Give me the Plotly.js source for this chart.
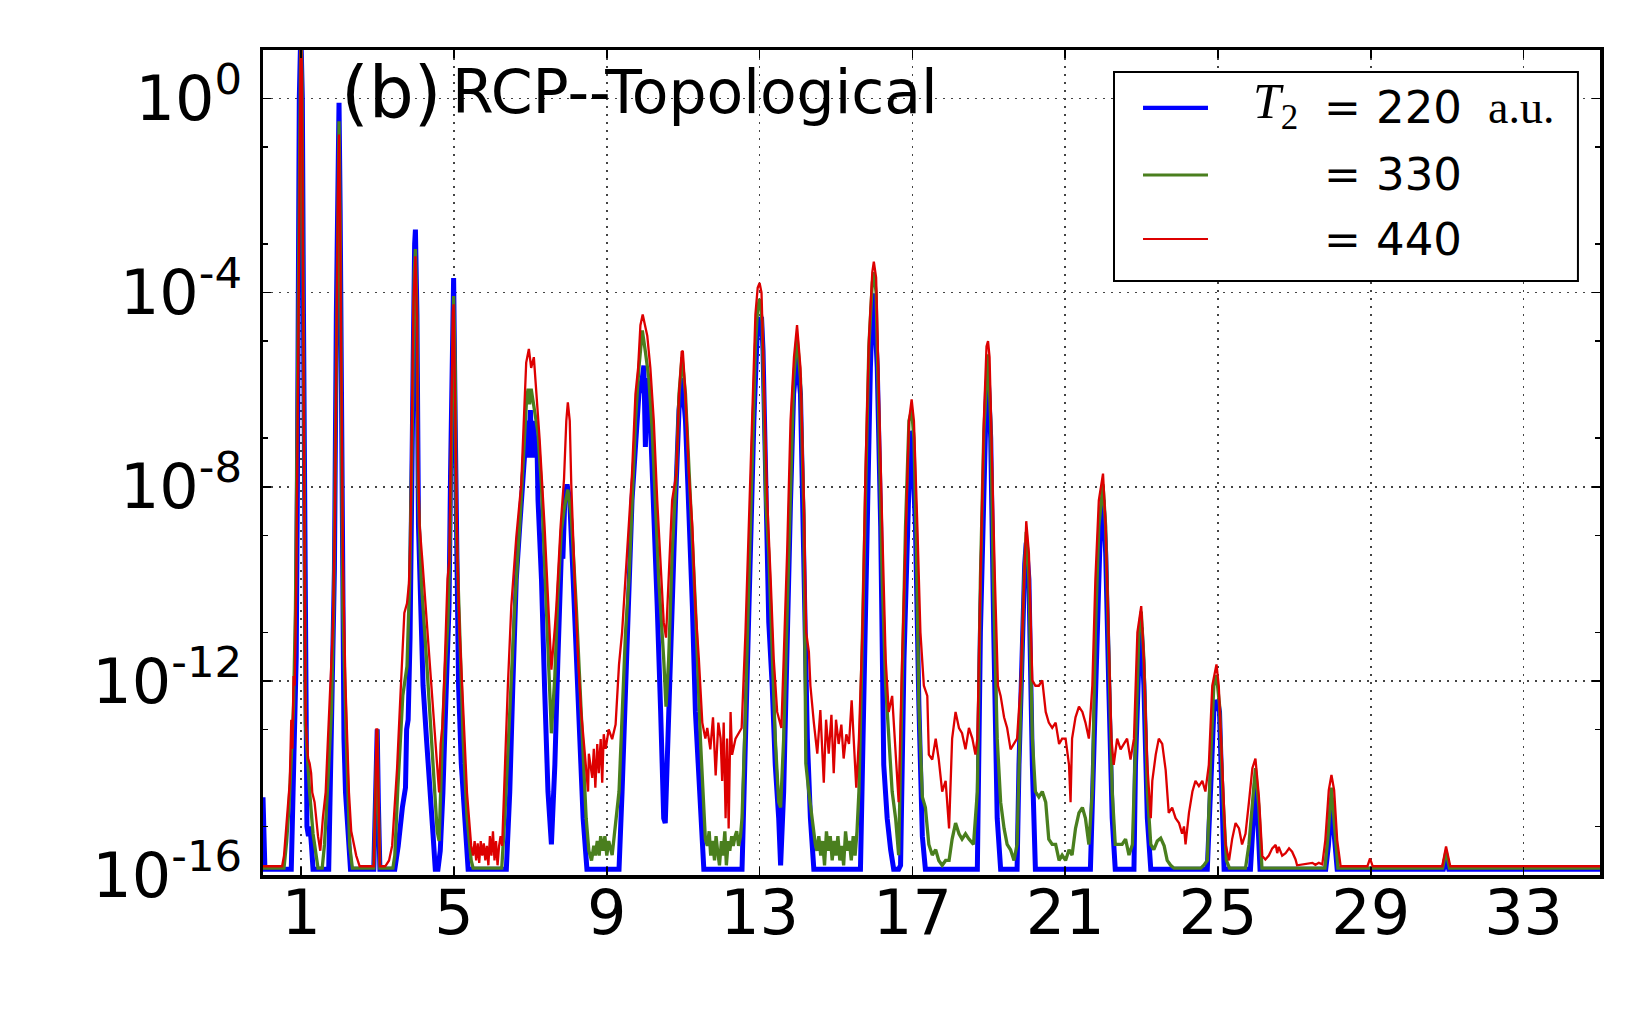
<!DOCTYPE html>
<html>
<head>
<meta charset="utf-8">
<script src="https://cdn.plot.ly/plotly-3.0.1.min.js"></script>
<style>
  html, body { margin: 0; padding: 0; background: #fff; }
  #chart { width: 1650px; height: 1018px; }
</style>
</head>
<body>
<div id="chart"></div>
<script>
// harmonic order (x) and log10 of the yield
const blueX = [
  0, 0.03, 0.05, 0.74, 0.83, 0.87, 0.90, 0.92, 0.95, 0.99, 1.03, 1.06, 1.08, 1.10, 1.12, 1.15, 1.19, 1.23, 1.27, 1.31,
  1.72, 1.77, 1.82, 1.87, 1.92, 1.96, 1.99, 2.02, 2.06, 2.08, 2.12, 2.16, 2.23, 2.29,
  2.90, 2.94, 2.97, 2.99, 3.02, 3.06,
  3.45, 3.54, 3.65, 3.73, 3.76, 3.80, 3.85, 3.89, 3.93, 3.97, 3.99, 4.03, 4.07, 4.13, 4.19, 4.28, 4.36, 4.45, 4.51,
  4.58, 4.64, 4.71, 4.80, 4.87, 4.91, 4.96, 4.99, 5.03, 5.06, 5.12, 5.19, 5.28, 5.37,
  6.37, 6.46, 6.54, 6.63, 6.72, 6.79, 6.85, 6.91, 6.95, 7.00, 7.04, 7.09, 7.13, 7.17, 7.20, 7.29, 7.37, 7.46, 7.55,
  7.64, 7.72, 7.81, 7.85, 7.90, 7.96, 8.03, 8.12, 8.25, 8.38, 8.48,
  9.32, 9.40, 9.49, 9.58, 9.66, 9.75, 9.84, 9.93, 9.97, 10.01, 10.06, 10.14, 10.23, 10.32, 10.41, 10.49, 10.53,
  10.62, 10.71, 10.80, 10.89, 10.97, 11.06, 11.15, 11.24, 11.32, 11.45, 11.54,
  12.54, 12.59, 12.68, 12.77, 12.85, 12.94, 13.00, 13.02, 13.05, 13.09, 13.15, 13.20, 13.24, 13.33, 13.41, 13.50, 13.55,
  13.63, 13.72, 13.81, 13.89, 13.98, 14.07, 14.16, 14.25, 14.33, 14.42,
  15.64, 15.73, 15.82, 15.90, 15.96, 15.99, 16.08, 16.17, 16.25, 16.34, 16.43, 16.51, 16.64, 16.69,
  16.78, 16.86, 16.95, 16.98, 17.08, 17.17, 17.26, 17.34,
  18.70, 18.78, 18.87, 18.94, 18.98, 19.05, 19.13, 19.22, 19.31,
  19.74, 19.79, 19.87, 19.94, 19.98, 20.05, 20.14, 20.22,
  21.66, 21.75, 21.84, 21.93, 21.99, 22.06, 22.14, 22.23, 22.31,
  22.80, 22.84, 22.93, 22.99, 23.06, 23.15, 23.24,
  24.72, 24.80, 24.89, 24.96, 25.00, 25.04, 25.10, 25.16,
  25.85, 25.90, 25.98, 26.05, 26.10,
  27.82, 27.89, 27.97, 28.05, 28.12,
  30.90, 30.97, 31.04, 35
];
const blueLog = [
  -14.4, -15.2, -15.88, -15.88, -13.3, -11.5, -8.0, -4.5, 0, 1.4, 0, -4.5, -8.0, -11.0, -13.2, -15.0, -15.2, -15.0, -15.4, -15.88,
  -15.88, -13.4, -11.9, -9.7, -4.45, -1.2, -0.09, -2.3, -6.6, -10.5, -13.2, -14.3, -15.4, -15.88,
  -15.88, -14.5, -13.0, -13.0, -14.5, -15.88,
  -15.88, -15.4, -14.6, -14.2, -13.0, -12.8, -11.1, -9.06, -5.5, -3.0, -2.7, -4.45, -8.8, -10.46, -12.1, -13.2, -14.3, -15.15, -15.88,
  -15.88, -15.5, -14.3, -12.1, -10.46, -7.7, -5.0, -3.7, -6.6, -9.4, -12.1, -13.7, -14.8, -15.88,
  -15.88, -14.28, -12.1, -9.91, -8.82, -7.95, -7.18, -6.64, -7.40, -6.42, -7.40, -6.64, -7.40, -7.0, -8.28, -9.91, -12.1, -14.28, -15.37,
  -13.73, -11.55, -9.37, -9.48, -8.28, -7.95, -8.28, -9.91, -12.1, -14.83, -15.88,
  -15.88, -14.28, -12.1, -9.91, -8.28, -7.18, -6.09, -5.76, -5.5, -7.18, -5.76, -6.64, -8.28, -10.46, -12.64, -14.83, -14.93,
  -12.64, -9.91, -8.28, -6.42, -5.76, -6.64, -8.28, -10.46, -12.64, -14.83, -15.88,
  -15.88, -14.28, -11.55, -8.82, -6.64, -4.78, -4.5, -4.9, -4.5, -5.2, -7.73, -10.46, -10.79, -12.1, -13.73, -14.83, -15.8,
  -14.28, -11.0, -8.28, -6.09, -5.33, -6.09, -9.91, -13.19, -14.83, -15.88,
  -15.88, -12.1, -8.82, -5.55, -4.13, -4.02, -5.55, -8.82, -13.73, -14.83, -15.48, -15.88, -15.88, -15.8,
  -11.55, -8.82, -6.86, -6.9, -8.82, -12.5, -15.2, -15.88,
  -15.88, -11.0, -7.73, -6.0, -5.66, -7.0, -11.0, -14.83, -15.88,
  -15.88, -13.73, -11.0, -9.6, -9.15, -9.91, -13.73, -15.88,
  -15.88, -13.19, -10.46, -8.6, -8.27, -9.37, -12.1, -14.83, -15.88,
  -15.88, -13.73, -11.55, -10.9, -12.1, -14.83, -15.88,
  -15.88, -14.28, -12.64, -12.4, -12.45, -12.64, -14.0, -15.88,
  -15.88, -15.0, -14.1, -15.0, -15.88,
  -15.88, -15.4, -14.5, -15.4, -15.88,
  -15.88, -15.62, -15.88, -15.88
];

const greenX = [
  0, 0.55, 0.62, 0.68, 0.74, 0.80, 0.85, 0.89, 0.92, 0.96, 0.99, 1.02, 1.05, 1.08, 1.11, 1.16, 1.22, 1.31, 1.40, 1.44,
  1.55, 1.61, 1.70, 1.79, 1.85, 1.88, 1.92, 1.96, 1.99, 2.02, 2.06, 2.09, 2.18, 2.27, 2.34,
  2.90, 2.94, 2.97, 2.99, 3.02, 3.06,
  3.40, 3.45, 3.53, 3.66, 3.77, 3.84, 3.91, 3.96, 3.99, 4.03, 4.06, 4.14, 4.28, 4.41, 4.49, 4.56, 4.61,
  4.66, 4.71, 4.78, 4.84, 4.90, 4.94, 4.98, 4.99, 5.03, 5.06, 5.15, 5.24, 5.34, 5.45, 5.50,
  6.25, 6.33, 6.46, 6.59, 6.72, 6.85, 6.90, 6.94, 6.98, 7.02, 7.06, 7.11, 7.20, 7.29, 7.37, 7.46, 7.55,
  7.64, 7.72, 7.81, 7.90, 7.98, 8.07, 8.20, 8.33, 8.46,
  8.53, 8.60, 8.66, 8.70, 8.75, 8.80, 8.84, 8.90, 8.95, 9.00, 9.05, 9.10, 9.14,
  9.32, 9.40, 9.49, 9.58, 9.66, 9.75, 9.84, 9.93, 10.01, 10.10, 10.19, 10.27, 10.36, 10.49, 10.55,
  10.62, 10.71, 10.82, 10.89, 10.97, 11.06, 11.19, 11.32, 11.45, 11.54, 11.58,
  11.63, 11.68, 11.72, 11.77, 11.82, 11.86, 11.90, 11.95, 12.00, 12.04, 12.09, 12.13, 12.18, 12.22, 12.27, 12.31,
  12.36, 12.40, 12.45, 12.50,
  12.54, 12.63, 12.72, 12.81, 12.89, 12.95, 13.00, 13.07, 13.16, 13.24, 13.33, 13.41, 13.50, 13.55,
  13.63, 13.76, 13.89, 13.98, 14.07, 14.16, 14.19, 14.21, 14.29, 14.37, 14.46, 14.50,
  14.55, 14.60, 14.65, 14.70, 14.75, 14.80, 14.85, 14.90, 14.95, 15.00, 15.05, 15.10, 15.15, 15.20, 15.25, 15.30,
  15.35, 15.40, 15.45, 15.50, 15.55,
  15.60, 15.69, 15.77, 15.86, 15.95, 15.99, 16.05, 16.12, 16.21, 16.30, 16.38, 16.47, 16.56, 16.64,
  16.73, 16.82, 16.91, 16.98, 17.04, 17.10, 17.17, 17.26, 17.34, 17.43, 17.52, 17.61, 17.69, 17.78, 17.87, 17.96,
  18.04, 18.13, 18.22, 18.30, 18.39, 18.48, 18.60,
  18.70, 18.78, 18.87, 18.98, 19.05, 19.12, 19.22, 19.31, 19.40, 19.48, 19.57, 19.66, 19.74,
  19.83, 19.92, 19.98, 20.05, 20.14, 20.22, 20.31, 20.40, 20.49, 20.57, 20.66, 20.75, 20.84, 20.92, 21.01, 21.10,
  21.18, 21.27, 21.36, 21.45, 21.53, 21.62,
  21.71, 21.79, 21.88, 21.99, 22.06, 22.14, 22.23, 22.31, 22.40, 22.49, 22.58, 22.67, 22.76,
  22.85, 22.93, 22.99, 23.06, 23.15, 23.24, 23.32, 23.41, 23.50, 23.59, 23.67, 23.76, 23.85,
  24.55, 24.63, 24.72, 24.80, 24.89, 24.96, 25.04, 25.13, 25.22, 25.30,
  25.72, 25.81, 25.90, 25.98, 26.07, 26.15,
  27.80, 27.88, 27.97, 28.06, 28.14,
  30.88, 30.97, 31.06, 35
];
const greenLog = [
  -15.86, -15.86, -15.3, -14.6, -13.6, -12.5, -10.5, -7.0, -3.0, 0.5, 1.4, 0.5, -3.0, -8.0, -12.9, -13.6, -14.28, -15.15, -15.59, -15.86,
  -15.86, -15.37, -14.06, -12.64, -10.46, -8.0, -4.5, -1.6, -0.47, -2.5, -6.5, -10.5, -13.2, -15.4, -15.86,
  -15.86, -14.5, -13.0, -13.0, -14.5, -15.86,
  -15.86, -15.6, -14.2, -12.3, -11.7, -9.9, -6.6, -3.6, -3.1, -4.5, -8.0, -9.9, -11.55, -13.2, -14.3, -15.1, -15.3,
  -14.0, -12.8, -11.6, -10.8, -9.0, -6.5, -4.3, -4.07, -5.5, -8.8, -11.0, -13.2, -14.8, -15.7, -15.86,
  -15.86, -14.8, -12.6, -10.46, -8.8, -6.86, -6.2, -5.98, -6.3, -5.98, -6.2, -6.42, -6.9, -8.0, -9.5, -11.5, -13.08,
  -11.9, -10.2, -8.9, -8.38, -8.06, -8.6, -10.46, -12.64, -14.83,
  -15.5, -15.7, -15.4, -15.6, -15.3, -15.6, -15.2, -15.5, -15.2, -15.6, -15.3, -15.5, -15.59,
  -14.28, -12.64, -11.0, -9.91, -8.28, -6.64, -5.55, -4.78, -5.22, -5.76, -6.86, -8.28, -9.91, -11.55, -12.53,
  -11.55, -9.37, -7.73, -6.09, -5.33, -6.09, -8.28, -10.46, -13.19, -14.83, -15.26,
  -15.4, -15.1, -15.6, -15.3, -15.7, -15.2, -15.5, -15.8, -15.3, -15.6, -15.1, -15.8, -15.3, -15.5, -15.2, -15.4,
  -15.2, -15.1, -15.4, -15.2,
  -14.83, -12.64, -9.91, -7.18, -5.11, -4.3, -4.13, -4.6, -8.28, -9.37, -11.55, -13.19, -14.5, -14.61,
  -13.19, -9.37, -5.8, -4.89, -5.76, -8.6, -11.3, -13.7, -14.3, -14.83, -15.37, -15.5,
  -15.2, -15.6, -15.3, -15.8, -15.1, -15.5, -15.2, -15.7, -15.3, -15.6, -15.2, -15.7, -15.4, -15.8, -15.1, -15.5,
  -15.3, -15.7, -15.2, -15.6, -15.1,
  -14.28, -11.0, -7.73, -5.11, -3.8, -3.58, -4.0, -6.64, -9.91, -12.1, -13.19, -14.28, -14.83, -15.59,
  -12.1, -8.82, -6.64, -6.42, -7.0, -9.0, -12.5, -14.39, -14.61, -15.37, -15.59, -15.48, -15.70, -15.8, -15.70, -15.70,
  -15.26, -14.93, -15.15, -15.26, -15.15, -15.26, -15.37,
  -14.28, -9.91, -6.86, -5.27, -6.64, -9.91, -13.19, -14.50, -15.04, -15.37, -15.48, -15.70, -15.37,
  -12.64, -9.91, -8.93, -9.91, -13.19, -14.28, -14.39, -14.28, -14.50, -15.26, -15.37, -15.37, -15.70, -15.59, -15.70, -15.48,
  -15.59, -15.04, -14.72, -14.61, -14.83, -15.37,
  -14.28, -11.0, -8.82, -7.95, -8.82, -11.55, -14.28, -15.37, -15.37, -15.37, -15.26, -15.59, -15.37,
  -13.19, -11.0, -10.57, -11.55, -14.28, -15.37, -15.48, -15.30, -15.24, -15.40, -15.70, -15.8, -15.86,
  -15.86, -15.8, -15.70, -13.73, -12.1, -11.88, -12.5, -14.39, -15.7, -15.86,
  -15.86, -15.37, -14.5, -13.8, -14.6, -15.86,
  -15.86, -15.2, -14.2, -15.2, -15.86,
  -15.86, -15.5, -15.86, -15.86
];

const redX = [
  0, 0.50, 0.55, 0.61, 0.66, 0.70, 0.74, 0.77, 0.80, 0.83, 0.87, 0.92, 0.96, 0.99, 1.02, 1.05, 1.08, 1.11, 1.13, 1.18,
  1.22, 1.26, 1.29, 1.35, 1.44, 1.50, 1.57, 1.64, 1.70, 1.77, 1.83, 1.88, 1.92, 1.96, 1.99, 2.02, 2.06, 2.09, 2.16,
  2.25, 2.31, 2.37, 2.44, 2.53,
  2.90, 2.94, 2.97, 2.99, 3.02, 3.06,
  3.20, 3.30, 3.38, 3.45, 3.51, 3.58, 3.64, 3.70, 3.77, 3.82, 3.86, 3.90, 3.94, 3.99, 4.03, 4.06, 4.10, 4.17, 4.30,
  4.45, 4.55, 4.61, 4.65, 4.70, 4.76, 4.83, 4.88, 4.93, 4.97, 4.99, 5.04, 5.09, 5.15, 5.24, 5.34, 5.45,
  5.50, 5.54, 5.58, 5.62, 5.66, 5.70, 5.74, 5.78, 5.82, 5.86, 5.90, 5.94, 5.98, 6.02, 6.06, 6.10, 6.14, 6.18, 6.22, 6.26,
  6.33, 6.41, 6.50, 6.63, 6.76, 6.85, 6.89, 6.96, 7.02, 7.09, 7.16, 7.24, 7.37, 7.46, 7.55,
  7.64, 7.68, 7.79, 7.88, 7.94, 7.98, 8.03, 8.07, 8.16, 8.25, 8.33, 8.42, 8.51,
  8.53, 8.62, 8.66, 8.70, 8.75, 8.79, 8.84, 8.88, 8.92, 8.97, 9.05, 9.14, 9.23,
  9.32, 9.40, 9.49, 9.58, 9.66, 9.75, 9.82, 9.88, 9.94, 10.00, 10.06, 10.14, 10.23, 10.32, 10.41, 10.49, 10.55,
  10.62, 10.71, 10.82, 10.89, 10.96, 10.99, 11.06, 11.15, 11.24, 11.32, 11.41, 11.50, 11.58,
  11.63, 11.71, 11.78, 11.85, 11.92, 11.98, 12.02, 12.06, 12.11, 12.15, 12.19, 12.24, 12.28, 12.37, 12.46, 12.53,
  12.63, 12.72, 12.81, 12.89, 12.95, 13.00, 13.05, 13.14, 13.20, 13.29, 13.37, 13.46, 13.57,
  13.63, 13.72, 13.81, 13.90, 13.98, 14.07, 14.16, 14.22, 14.29, 14.33, 14.42,
  14.51, 14.59, 14.68, 14.74, 14.81, 14.88, 14.94, 15.00, 15.07, 15.14, 15.20, 15.27, 15.34, 15.41, 15.47, 15.53,
  15.60, 15.69, 15.77, 15.86, 15.95, 15.99, 16.05, 16.12, 16.21, 16.30, 16.38, 16.47, 16.56, 16.64,
  16.73, 16.82, 16.91, 16.98, 17.04, 17.13, 17.21, 17.30, 17.39,
  17.43, 17.52, 17.61, 17.69, 17.78, 17.87, 17.96, 18.04, 18.13, 18.22, 18.30, 18.39, 18.48, 18.57, 18.65, 18.70,
  18.78, 18.87, 18.94, 18.98, 19.02, 19.09, 19.16, 19.24, 19.31, 19.40, 19.48, 19.57, 19.66, 19.74,
  19.83, 19.92, 19.98, 20.05, 20.14, 20.22, 20.31, 20.40, 20.49, 20.57, 20.66, 20.75, 20.84, 20.92, 21.01, 21.10,
  21.14, 21.18, 21.27, 21.36, 21.45, 21.53, 21.62,
  21.71, 21.79, 21.88, 21.99, 22.06, 22.14, 22.21, 22.27, 22.36, 22.45, 22.54, 22.62, 22.71, 22.80,
  22.89, 22.99, 23.06, 23.15, 23.24, 23.28, 23.37, 23.45, 23.54, 23.63, 23.71, 23.80, 23.89, 23.98, 24.06, 24.11,
  24.15, 24.24, 24.33, 24.41, 24.50, 24.59, 24.67, 24.76,
  24.85, 24.96, 25.02, 25.11, 25.20, 25.29, 25.37, 25.46, 25.55, 25.63, 25.72, 25.81,
  25.90, 25.98, 26.07, 26.16, 26.24, 26.33, 26.42, 26.51, 26.55, 26.59, 26.68, 26.77, 26.86, 26.94, 27.03, 27.07,
  27.38, 27.47, 27.55, 27.64, 27.73, 27.81, 27.90, 27.97, 28.04, 28.12, 28.21,
  28.91, 28.98, 29.05,
  30.87, 30.97, 31.08, 35
];
const redLog = [
  -15.82, -15.82, -15.6, -14.9, -14.5, -14.1, -12.8, -13.4, -11.9, -12.1, -9.9, -5.5, 0, 1.4, 0.5, -4.0, -9.0, -12.5, -13.0, -13.6,
  -13.7, -13.9, -14.3, -14.5, -15.2, -15.5, -14.8, -14.3, -13.2, -12.1, -10.9, -8.8, -5.0, -2.0, -0.74, -2.5, -6.6, -9.4, -12.1,
  -14.3, -15.1, -15.3, -15.6, -15.82,
  -15.82, -14.5, -13.0, -13.0, -14.5, -15.82,
  -15.82, -15.7, -15.4, -14.6, -13.8, -12.6, -11.5, -10.6, -10.4, -10.0, -9.0, -6.1, -4.2, -3.25, -4.5, -7.5, -8.8, -9.5, -10.9,
  -12.6, -13.7, -14.3, -13.3, -12.9, -11.6, -9.9, -9.5, -6.0, -4.4, -4.24, -6.6, -9.5, -11.0, -12.6, -14.3, -15.4,
  -15.6, -15.3, -15.7, -15.35, -15.75, -15.3, -15.6, -15.35, -15.7, -15.4, -15.8, -15.2, -15.6, -15.1, -15.7, -15.3, -15.8, -15.4, -15.2, -15.4,
  -13.7, -12.1, -10.46, -9.04, -7.95, -6.1, -5.44, -5.16, -5.55, -5.33, -6.1, -7.0, -8.8, -10.4, -11.77,
  -10.9, -10.46, -8.82, -7.84, -6.64, -6.26, -6.64, -7.95, -9.91, -11.55, -12.64, -13.52, -14.28,
  -13.5, -14.0, -13.4, -14.2, -13.3, -13.9, -13.2, -14.1, -13.1, -13.4, -13.0, -13.2, -12.9,
  -11.66, -11.0, -9.91, -8.82, -7.73, -6.09, -5.55, -4.67, -4.45, -4.67, -4.89, -5.55, -6.64, -8.28, -9.7, -10.79, -11.11,
  -9.91, -8.28, -7.73, -6.09, -5.22, -5.2, -6.09, -7.73, -8.82, -10.46, -11.55, -12.86, -13.19,
  -12.97, -13.41, -12.75, -13.95, -12.86, -13.19, -14.06, -12.86, -14.83, -13.19, -15.04, -12.64, -13.52, -13.19, -13.08, -12.97,
  -11.0, -8.82, -6.64, -4.45, -3.9, -3.80, -4.0, -6.64, -8.28, -9.91, -11.55, -12.64, -12.97,
  -11.55, -9.37, -6.64, -5.33, -4.67, -5.55, -8.28, -11.0, -11.4, -12.1, -12.86,
  -13.5, -12.6, -14.1, -12.8, -13.5, -12.7, -13.9, -12.8, -13.3, -12.9, -13.6, -13.1, -13.3, -12.4, -13.2, -14.2,
  -13.19, -11.0, -7.73, -5.00, -3.58, -3.36, -3.69, -6.09, -8.82, -11.55, -12.64, -12.31, -13.41, -14.5,
  -11.55, -8.82, -6.64, -6.2, -6.64, -8.82, -11.0, -12.1, -12.31,
  -13.52, -13.62, -13.19, -13.62, -14.28, -14.06, -15.04, -13.19, -12.64, -12.97, -13.08, -13.41, -12.97, -13.19, -13.52, -13.19,
  -9.91, -6.64, -5.11, -5.0, -5.33, -7.73, -9.91, -12.1, -12.31, -12.75, -12.97, -13.41, -13.30, -13.19,
  -12.1, -9.91, -8.71, -9.37, -11.99, -12.1, -12.1, -11.99, -12.64, -12.86, -12.97, -12.86, -13.30, -13.19, -13.19, -13.73,
  -14.5, -13.19, -12.75, -12.53, -12.64, -12.86, -13.19,
  -12.1, -9.91, -8.28, -7.73, -8.82, -11.0, -13.19, -13.73, -13.19, -13.41, -13.30, -13.19, -13.62, -13.19,
  -11.0, -10.46, -11.55, -13.73, -14.83, -14.06, -13.52, -13.19, -13.30, -13.84, -14.72, -14.61, -14.83, -14.93, -15.15, -15.0,
  -15.37, -14.72, -14.28, -14.06, -14.17, -14.06, -14.28, -13.73,
  -12.1, -11.66, -12.1, -13.73, -15.37, -15.70, -15.26, -14.93, -15.04, -15.37, -15.15, -14.50,
  -13.8, -13.6, -14.38, -15.61, -15.68, -15.6, -15.45, -15.38, -15.55, -15.42, -15.6, -15.55, -15.45, -15.52, -15.68, -15.8,
  -15.77, -15.75, -15.79, -15.75, -15.78, -15.28, -14.25, -13.94, -14.25, -15.28, -15.82,
  -15.82, -15.66, -15.82,
  -15.82, -15.41, -15.82, -15.82
];

const seriesNames = ["T2 = 220 a.u.", "T2 = 330", "T2 = 440"];
const seriesColors = ["#0000ff", "#4a7f1e", "#dd0000"];
const seriesWidths = [5, 3.3, 2.3];
const legendValues = ["220", "330", "440"];

const yTickVals = [1, 1e-4, 1e-8, 1e-12, 1e-16];
const yTickText = ["10<sup>0</sup>", "10<sup>-4</sup>", "10<sup>-8</sup>", "10<sup>-12</sup>", "10<sup>-16</sup>"];
const yMinorVals = [1e-1, 1e-3, 1e-5, 1e-7, 1e-9, 1e-11, 1e-13, 1e-15];
const xTickVals = [1, 5, 9, 13, 17, 21, 25, 29, 33];

const toPow = arr => arr.map(v => Math.pow(10, v));

const xs = [blueX, greenX, redX];
const ys = [blueLog, greenLog, redLog];

const data = xs.map((x, i) => ({
  x: x,
  y: toPow(ys[i]),
  type: "scatter",
  mode: "lines",
  name: seriesNames[i],
  line: { color: seriesColors[i], width: seriesWidths[i] },
  hoverinfo: "skip",
  showlegend: false,
}));

// hand-made legend box in paper coordinates
const legendRowY = [0.9297, 0.8485, 0.7709];
const shapes = [
  {
    type: "rect", xref: "paper", yref: "paper",
    x0: 0.6365, x1: 0.9835, y0: 0.72, y1: 0.9733,
    line: { color: "black", width: 2 }, fillcolor: "white", layer: "above",
  },
];
legendRowY.forEach((y, i) => {
  shapes.push({
    type: "line", xref: "paper", yref: "paper",
    x0: 0.6582, x1: 0.7068, y0: y, y1: y,
    line: { color: seriesColors[i], width: seriesWidths[i] * 0.85 }, layer: "above",
  });
});

const annotations = [
  {
    text: "(b)", xref: "paper", yref: "paper", x: 0.057, y: 0.949,
    xanchor: "left", yanchor: "middle", showarrow: false,
    font: { family: "DejaVu Sans", size: 71, color: "black" },
  },
  {
    text: "RCP--Topological", xref: "paper", yref: "paper", x: 0.14, y: 0.949,
    xanchor: "left", yanchor: "middle", showarrow: false,
    font: { family: "DejaVu Sans", size: 60, color: "black" },
  },
  {
    text: "<i>T</i><sub>2</sub>", xref: "paper", yref: "paper", x: 0.739, y: legendRowY[0] + 0.004,
    xanchor: "left", yanchor: "middle", showarrow: false,
    font: { family: "Liberation Serif", size: 50, color: "black" },
  },
  {
    text: "a.u.", xref: "paper", yref: "paper", x: 0.915, y: legendRowY[0],
    xanchor: "left", yanchor: "middle", showarrow: false,
    font: { family: "Liberation Serif", size: 46, color: "black" },
  },
];
legendRowY.forEach((y, i) => {
  annotations.push({
    text: "=", xref: "paper", yref: "paper", x: 0.792, y: y,
    xanchor: "left", yanchor: "middle", showarrow: false,
    font: { family: "DejaVu Serif", size: 44, color: "black" },
  });
  annotations.push({
    text: legendValues[i], xref: "paper", yref: "paper", x: 0.831, y: y,
    xanchor: "left", yanchor: "middle", showarrow: false,
    font: { family: "DejaVu Sans", size: 45, color: "black" },
  });
});

const gridStyle = { showgrid: true, gridcolor: "#444", gridwidth: 1.5, griddash: "2px,6px" };

const layout = {
  width: 1650,
  height: 1018,
  margin: { l: 263, r: 50, t: 50, b: 143 },
  paper_bgcolor: "white",
  plot_bgcolor: "white",
  font: { family: "DejaVu Sans", color: "black" },
  showlegend: false,
  xaxis: Object.assign({
    range: [0, 35],
    tickmode: "array",
    tickvals: xTickVals,
    ticks: "inside",
    ticklen: 8,
    tickwidth: 1.5,
    tickcolor: "black",
    showline: true,
    linecolor: "black",
    linewidth: 3.5,
    mirror: "ticks",
    zeroline: false,
    ticklabelstandoff: -19,
    tickfont: { family: "DejaVu Sans", size: 62, color: "black" },
  }, gridStyle),
  yaxis: Object.assign({
    type: "log",
    range: [-16, 1],
    tickmode: "array",
    tickvals: yTickVals,
    ticktext: yTickText,
    ticks: "inside",
    ticklen: 8,
    tickwidth: 1.5,
    tickcolor: "black",
    minor: {
      tickmode: "array",
      tickvals: yMinorVals,
      ticks: "inside",
      ticklen: 5,
      tickwidth: 1.5,
      tickcolor: "black",
      showgrid: false,
    },
    showline: true,
    linecolor: "black",
    linewidth: 3.5,
    mirror: "ticks",
    zeroline: false,
    ticklabelstandoff: 5,
    tickfont: { family: "DejaVu Sans", size: 62, color: "black" },
  }, gridStyle),
  shapes: shapes,
  annotations: annotations,
};

Plotly.newPlot("chart", data, layout, { displayModeBar: false, staticPlot: true });
</script>
</body>
</html>
